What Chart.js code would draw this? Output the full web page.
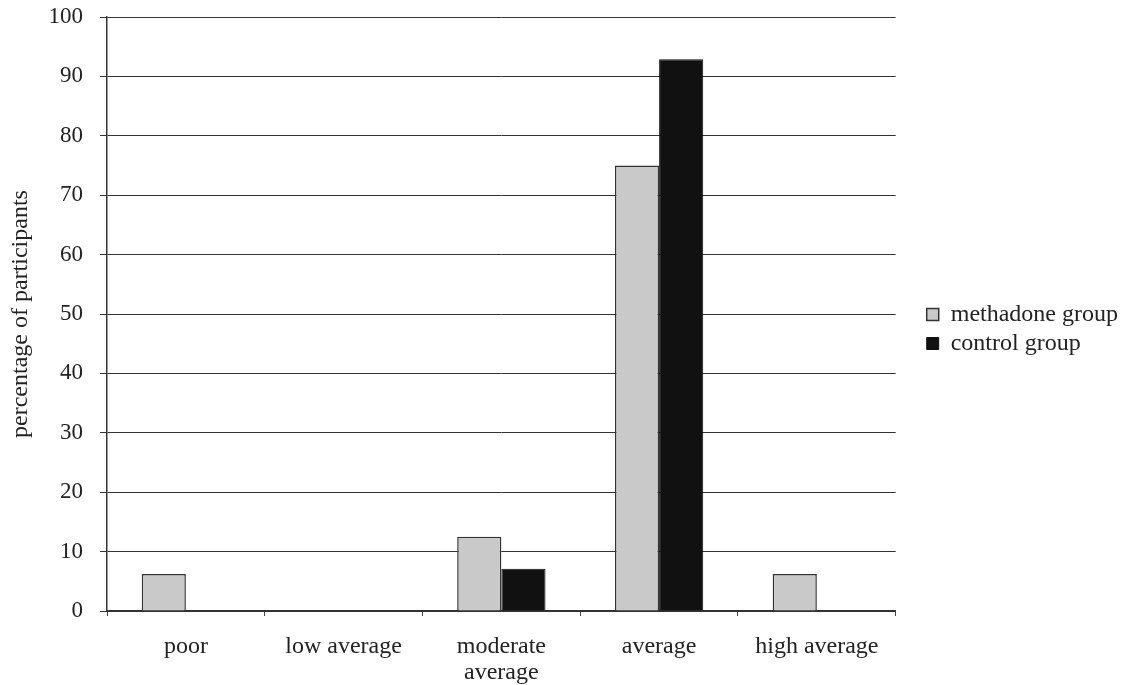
<!DOCTYPE html>
<html>
<head>
<meta charset="utf-8">
<script src="https://cdn.jsdelivr.net/npm/chart.js@4.4.1/dist/chart.umd.min.js"></script>
<style>
html,body{margin:0;padding:0;background:#fff;}
#wrap{width:1122px;height:685px;position:relative;}
</style>
</head>
<body>
<div id="wrap"><canvas id="c" width="1122" height="685"></canvas></div>
<script>
const categories = ["poor", "low average", ["moderate", "average"], "average", "high average"];
const methadoneValues = [6.25, 0, 12.5, 75, 6.25];
const controlValues = [0, 0, 7.1, 92.9, 0];
const seriesNames = ["methadone group", "control group"];
const yTicks = [0, 10, 20, 30, 40, 50, 60, 70, 80, 90, 100];

const FONT = "'Liberation Serif', 'Times New Roman', serif";
Chart.defaults.font.family = FONT;
Chart.defaults.color = '#222';

const legendShift = {
  id: 'legendShift',
  afterLayout(chart) {
    const lg = chart.legend;
    if (!lg) return;
    const d = (chart.chartArea.right + 26) - lg.left;
    lg.left += d;
    lg.right += d;
    lg.top -= 22;
    lg.bottom -= 22;
  }
};

new Chart(document.getElementById('c'), {
  type: 'bar',
  data: {
    labels: categories,
    datasets: [
      { label: seriesNames[0], data: methadoneValues, backgroundColor: '#c9c9c9', borderColor: '#333', borderWidth: 1.5, barPercentage: 1, categoryPercentage: 0.56 },
      { label: seriesNames[1], data: controlValues, backgroundColor: '#111', borderColor: '#111', borderWidth: 1, barPercentage: 1, categoryPercentage: 0.56 }
    ]
  },
  options: {
    responsive: false,
    animation: false,
    layout: { padding: { top: 17, right: 20, bottom: 0, left: 6 } },
    plugins: {
      tooltip: { enabled: false },
      legend: {
        position: 'right',
        align: 'center',
        labels: { boxWidth: 12, boxHeight: 12, padding: 5, color: '#222', font: { size: 24, family: FONT } }
      }
    },
    scales: {
      x: {
        offset: true,
        grid: { display: true, offset: true, drawOnChartArea: false, drawTicks: true, tickLength: 5, color: '#444', lineWidth: 1 },
        border: { display: true, color: '#333', width: 1.5 },
        ticks: { maxRotation: 0, minRotation: 0, padding: 18, color: '#222', font: { size: 24, family: FONT, lineHeight: 1.083 } },
        afterFit: (s) => { s.height = 74; s.paddingLeft = 0; s.paddingRight = 0; }
      },
      y: {
        min: 0, max: 100,
        afterBuildTicks: (axis) => { axis.ticks = yTicks.map(v => ({ value: v })); },
        grid: { color: '#333', lineWidth: 1, drawTicks: true, tickLength: 7 },
        border: { display: true, color: '#333', width: 1.5 },
        ticks: { padding: 17, color: '#222', font: { size: 23, family: FONT } },
        title: { display: true, text: 'percentage of participants', color: '#222', font: { size: 24, family: FONT }, padding: { top: 0, bottom: 14 } },
        afterFit: (s) => { s.width = 101; s.paddingTop = 0; s.paddingBottom = 0; }
      }
    }
  },
  plugins: [legendShift]
});
</script>
</body>
</html>
